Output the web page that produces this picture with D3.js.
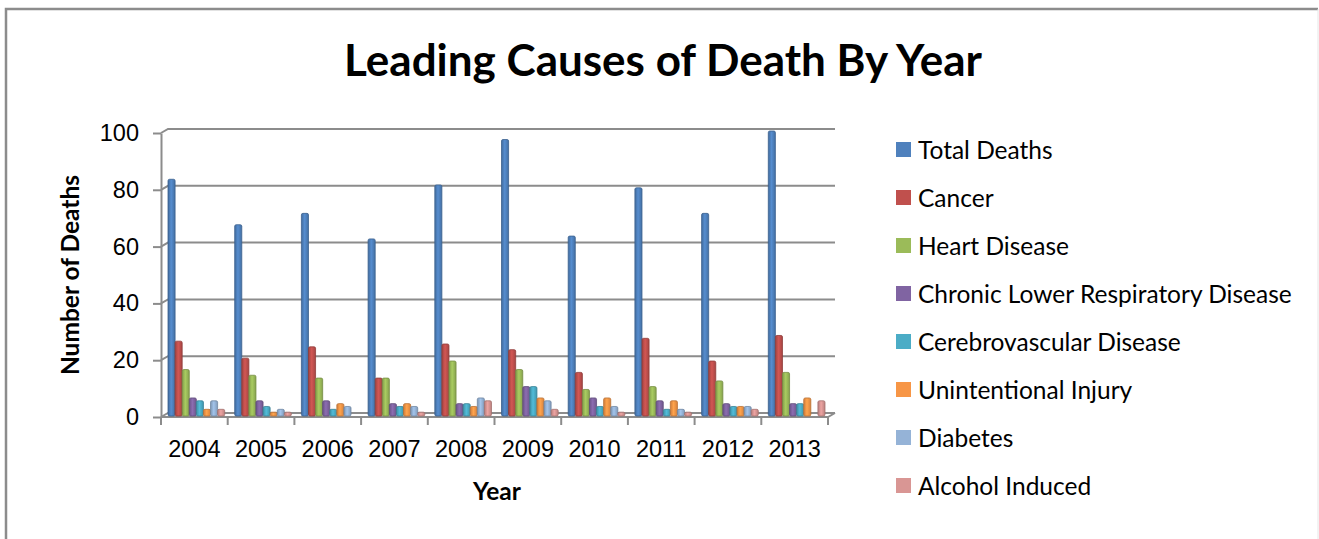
<!DOCTYPE html>
<html>
<head>
<meta charset="utf-8">
<script src="https://cdn.jsdelivr.net/npm/d3@7"></script>
<style>
  body { margin: 0; background: #fff; }
  svg { display: block; font-family: Lato, "Open Sans", sans-serif; }
</style>
</head>
<body>
<div id="chart"></div>
<script>
// Dades
const anys = ["2004", "2005", "2006", "2007", "2008", "2009", "2010", "2011", "2012", "2013"];
const series = ["Total Deaths", "Cancer", "Heart Disease", "Chronic Lower Respiratory Disease",
                "Cerebrovascular Disease", "Unintentional Injury", "Diabetes", "Alcohol Induced"];
const totalDeaths   = [83, 67, 71, 62, 81, 97, 63, 80, 71, 100];
const cancer        = [26, 20, 24, 13, 25, 23, 15, 27, 19, 28];
const heartDisease  = [16, 14, 13, 13, 19, 16, 9, 10, 12, 15];
const chronicLower  = [6, 5, 5, 4, 4, 10, 6, 5, 4, 4];
const cerebro       = [5, 3, 2, 3, 4, 10, 3, 2, 3, 4];
const injury        = [2, 1, 4, 4, 3, 6, 6, 5, 3, 6];
const diabetes      = [5, 2, 3, 3, 6, 5, 3, 2, 3, 0];
const alcohol       = [2, 1, 0, 1, 5, 2, 1, 1, 2, 5];
const yTicks = [0, 20, 40, 60, 80, 100];

const valors = [totalDeaths, cancer, heartDisease, chronicLower, cerebro, injury, diabetes, alcohol];
const colors = ["#4F81BD", "#C0504D", "#9BBB59", "#8064A2", "#4BACC6", "#F79646", "#95B3D7", "#D99694"];

const dades = anys.map((any, i) => ({
    any,
    valors: series.map((s, j) => ({ serie: s, valor: valors[j][i] }))
}));

const W = 1319, H = 539;
// desplaçament 3D de la paret del fons
const dx = 7, dy = 4;

const svg = d3.select("#chart").append("svg")
    .attr("width", W)
    .attr("height", H);

// degradats per donar volum a les barres
const defs = svg.append("defs");
colors.forEach((c, i) => {
    const g = defs.append("linearGradient")
        .attr("id", "grad" + i)
        .attr("x1", "0%").attr("x2", "100%")
        .attr("y1", "0%").attr("y2", "0%");
    g.append("stop").attr("offset", "0%").attr("stop-color", d3.color(c).darker(0.5));
    g.append("stop").attr("offset", "45%").attr("stop-color", d3.color(c).brighter(0.25));
    g.append("stop").attr("offset", "100%").attr("stop-color", d3.color(c).darker(0.4));
});

// Marc del gràfic
svg.append("path")
    .attr("d", `M6,${H} V9 H${W - 1}`)
    .attr("fill", "none")
    .attr("stroke", "#8c8c8c")
    .attr("stroke-width", 2.5);

svg.append("line")
    .attr("x1", W - 1).attr("x2", W - 1)
    .attr("y1", 9).attr("y2", H)
    .attr("stroke", "#e6e6e6")
    .attr("stroke-width", 1);

// Escales
const x0 = d3.scaleBand()
    .domain(anys)
    .range([161, 828]);

const x1 = d3.scaleBand()
    .domain(series)
    .range([dx, x0.bandwidth() - 3]);

const y = d3.scaleLinear()
    .domain([0, 100])
    .range([413, 129]);

// Graella (paret del fons)
const grid = svg.append("g");
yTicks.forEach(t => {
    grid.append("path")
        .attr("d", `M${161},${y(t) + dy} L${161 + dx},${y(t)} H${835}`)
        .attr("fill", "none")
        .attr("stroke", "#8c8c8c")
        .attr("stroke-width", 2);
});

// Terra
svg.append("path")
    .attr("d", `M161,${y(0) + dy} H828 L835,${y(0)}`)
    .attr("fill", "none")
    .attr("stroke", "#8c8c8c")
    .attr("stroke-width", 2);

// Eix Y
const eixY = d3.axisLeft(d3.scaleLinear().domain([0, 100]).range([y(0) + dy, y(100) + dy]))
    .tickValues(yTicks)
    .tickSize(8)
    .tickSizeOuter(0)
    .tickPadding(14);

svg.append("g")
    .attr("transform", "translate(161,0)")
    .call(eixY)
    .call(g => g.select(".domain").attr("stroke", "#8c8c8c").attr("stroke-width", 2))
    .call(g => g.selectAll(".tick line").attr("stroke", "#8c8c8c").attr("stroke-width", 2))
    .selectAll("text")
    .style("font-size", "23.5px")
    .style("fill", "#000");

// Eix X
const eixX = d3.axisBottom(x0)
    .tickSize(0)
    .tickPadding(23);

const gX = svg.append("g")
    .attr("transform", `translate(0,${y(0) + dy})`)
    .call(eixX)
    .call(g => g.select(".domain").remove());

gX.selectAll("text")
    .style("font-size", "23.5px")
    .style("fill", "#000");

// marques de l'eix X entre categories
gX.selectAll(".marca")
    .data(anys.concat(["fi"]))
    .enter()
    .append("line")
        .attr("class", "marca")
        .attr("x1", (d, i) => i < anys.length ? x0(d) : x0.range()[1])
        .attr("x2", (d, i) => i < anys.length ? x0(d) : x0.range()[1])
        .attr("y1", 0)
        .attr("y2", 8)
        .attr("stroke", "#8c8c8c")
        .attr("stroke-width", 2);

// Barres (a mitja profunditat: baixen dy/2 respecte la paret)
const grups = svg.selectAll(".grup")
    .data(dades)
    .enter()
    .append("g")
        .attr("class", "grup")
        .attr("transform", d => `translate(${x0(d.any)},${dy / 2})`);

grups.selectAll("rect")
    .data(d => d.valors.filter(v => v.valor > 0))
    .enter()
    .append("rect")
        .attr("x", d => x1(d.serie))
        .attr("y", d => y(d.valor))
        .attr("width", x1.bandwidth())
        .attr("height", d => y(0) + 1 - y(d.valor))
        .attr("rx", 1.5)
        .attr("fill", d => `url(#grad${series.indexOf(d.serie)})`)
        .attr("stroke", d => d3.color(colors[series.indexOf(d.serie)]).darker(0.8))
        .attr("stroke-width", 0.8);

// Títol
svg.append("text")
    .attr("x", 663)
    .attr("y", 76)
    .attr("text-anchor", "middle")
    .style("font-size", "44px")
    .style("font-weight", "bold")
    .text("Leading Causes of Death By Year");

// Títol eix Y
svg.append("text")
    .attr("transform", "rotate(-90)")
    .attr("x", -275)
    .attr("y", 79)
    .attr("text-anchor", "middle")
    .style("font-size", "24.5px")
    .style("font-weight", "bold")
    .text("Number of Deaths");

// Títol eix X
svg.append("text")
    .attr("x", 497)
    .attr("y", 500)
    .attr("text-anchor", "middle")
    .style("font-size", "24.5px")
    .style("font-weight", "bold")
    .text("Year");

// Llegenda
const llegenda = svg.selectAll(".llegenda")
    .data(series)
    .enter()
    .append("g")
        .attr("class", "llegenda")
        .attr("transform", (d, i) => `translate(896,${149.5 + i * 48})`);

llegenda.append("rect")
    .attr("x", 0)
    .attr("y", -7.5)
    .attr("width", 15)
    .attr("height", 15)
    .attr("fill", (d, i) => colors[i]);

llegenda.append("text")
    .attr("x", 22)
    .attr("y", 0)
    .attr("dominant-baseline", "central")
    .style("font-size", "24.5px")
    .text(d => d);
</script>
</body>
</html>
